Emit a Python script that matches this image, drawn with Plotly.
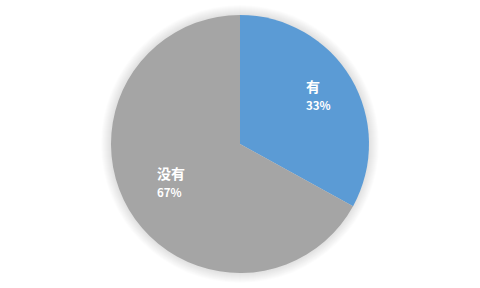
import math
import plotly.graph_objects as go

# Survey answer shares
labels = ["有", "没有"]
values = [33, 67]
colors = ["#5B9BD5", "#A5A5A5"]

W, H = 480, 288
R = 129            # pie radius in px
label_r = [0.71, 0.62]  # radial placement of each data label (fraction of R)

fig = go.Figure()

# Soft drop shadow: faint discs slightly larger than the pie
for k in range(10, 0, -1):
    rr = R + k * 1.0
    fig.add_trace(go.Pie(
        values=[1],
        marker=dict(colors=["rgba(0,0,0,0.012)"], line=dict(width=0)),
        textinfo="none",
        hoverinfo="skip",
        showlegend=False,
        sort=False,
        domain=dict(x=[0.5 - rr / W, 0.5 + rr / W], y=[0.5 - rr / H, 0.5 + rr / H]),
    ))

fig.add_trace(go.Pie(
    labels=labels,
    values=values,
    sort=False,
    direction="clockwise",
    rotation=0,
    marker=dict(colors=colors, line=dict(width=0)),
    textinfo="none",
    showlegend=False,
    hoverinfo="skip",
    domain=dict(x=[0.5 - R / W, 0.5 + R / W], y=[0.5 - R / H, 0.5 + R / H]),
))

# Data labels placed along each slice's bisector
total = sum(values)
start = 0.0
for lab, v, rf in zip(labels, values, label_r):
    span = 360.0 * v / total
    mid = math.radians(start + span / 2)
    start += span
    x = 0.5 + rf * R * math.sin(mid) / W
    y = 0.5 + rf * R * math.cos(mid) / H
    fig.add_annotation(
        x=x, y=y, xref="paper", yref="paper",
        xanchor="center", yanchor="middle", align="left",
        yshift=3,
        showarrow=False,
        text=f"<b>{lab}</b><br><span style='font-size:11.5px'><b>{v / total:.0%}</b></span>",
        font=dict(family="Noto Sans CJK SC", size=14, color="white"),
    )

fig.update_layout(
    width=W,
    height=H,
    margin=dict(l=0, r=0, t=0, b=0),
    paper_bgcolor="white",
    plot_bgcolor="white",
)

fig.write_html("out.html")
